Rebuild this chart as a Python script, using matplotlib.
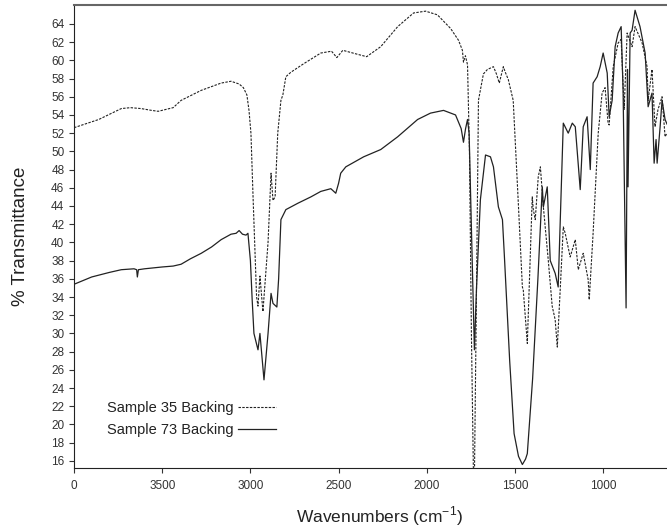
import matplotlib
matplotlib.use('Agg')
import matplotlib.pyplot as plt

plt.rcParams['font.family'] = ['Liberation Sans', 'DejaVu Sans']

# Sample 35 Backing (dashed)
wn_35 = [4000, 3860, 3732, 3680, 3620, 3560, 3523, 3438, 3393, 3279, 3166, 3110,
         3064, 3040, 3020, 3008, 2997, 2985, 2965, 2957, 2946, 2929, 2900, 2883,
         2872, 2860, 2845, 2827, 2816, 2799, 2770, 2700, 2601, 2540, 2510, 2476,
         2400, 2341, 2261, 2165, 2075, 2007, 1940, 1865, 1820, 1798, 1792, 1781,
         1769, 1758, 1747, 1735, 1730, 1718, 1707, 1679, 1656, 1622, 1605, 1589,
         1566, 1555, 1538, 1510, 1482, 1458, 1453, 1430, 1402, 1396, 1385, 1368,
         1356, 1339, 1311, 1289, 1272, 1260, 1243, 1226, 1215, 1187, 1158, 1141,
         1113, 1085, 1079, 1057, 1028, 1006, 989, 972, 966, 943, 915, 898, 881,
         864, 836, 819, 779, 751, 745, 723, 706, 689, 666, 649, 638]
t_35 = [52.6, 53.5, 54.7, 54.8, 54.7, 54.5, 54.4, 54.8, 55.6, 56.7, 57.5, 57.7,
        57.4, 57.0, 56.2, 54.5, 52.0, 45.0, 34.0, 33.0, 36.3, 32.4, 40.0, 47.6,
        44.6, 45.0, 52.0, 55.6, 56.2, 58.2, 58.7, 59.6, 60.8, 61.0, 60.3, 61.1,
        60.7, 60.4, 61.5, 63.7, 65.2, 65.4, 65.0, 63.5, 62.2, 61.1, 59.8, 60.5,
        59.5, 50.0, 30.0, 14.0, 14.0, 35.0, 55.6, 58.5, 59.0, 59.3, 58.5, 57.5,
        59.3, 58.7, 57.9, 55.6, 44.7, 35.1, 34.8, 28.9, 45.0, 43.6, 42.5, 47.2,
        48.3, 43.9, 38.0, 33.0, 31.5, 28.5, 35.0, 41.7, 41.0, 38.4, 40.3, 37.0,
        38.8, 35.9, 33.7, 41.0, 52.0, 56.4, 57.0, 53.1, 52.9, 59.3, 61.9, 62.3,
        54.6, 63.0, 61.5, 63.7, 61.9, 59.3, 55.6, 59.0, 52.7, 54.6, 56.0, 51.6, 52.0]

# Sample 73 Backing (solid)
wn_73 = [4000, 3900, 3800, 3732, 3660, 3645, 3641, 3635, 3600, 3500, 3438, 3393,
         3340, 3279, 3220, 3166, 3110, 3081, 3064, 3045, 3025, 3014, 3000, 2990,
         2980, 2957, 2946, 2923, 2900, 2883, 2872, 2850, 2840, 2827, 2799, 2731,
         2657, 2601, 2544, 2516, 2500, 2488, 2459, 2358, 2261, 2165, 2052, 1979,
         1905, 1837, 1805, 1792, 1780, 1769, 1760, 1745, 1730, 1718, 1696, 1667,
         1639, 1622, 1594, 1571, 1560, 1530, 1505, 1480, 1458, 1440, 1430, 1400,
         1370, 1345, 1339, 1317, 1300, 1272, 1255, 1226, 1198, 1175, 1158, 1130,
         1113, 1091, 1073, 1057, 1034, 1017, 1000, 977, 966, 949, 932, 915, 898,
         887, 870, 862, 859, 847, 836, 819, 791, 762, 745, 723, 711, 700, 694,
         677, 666, 649, 638]
t_73 = [35.4, 36.2, 36.7, 37.0, 37.1, 37.0, 36.2, 37.0, 37.1, 37.3, 37.4, 37.6,
        38.2, 38.8, 39.5, 40.3, 40.9, 41.0, 41.3, 40.9, 40.8, 41.0, 38.0, 33.7,
        30.0, 28.2, 30.0, 24.9, 30.0, 34.4, 33.3, 32.9, 36.0, 42.5, 43.6, 44.3,
        45.0, 45.6, 45.9, 45.4, 46.5, 47.6, 48.3, 49.4, 50.2, 51.6, 53.5, 54.2,
        54.5, 54.0, 52.5, 51.0, 52.5, 53.5, 52.0, 40.0, 28.2, 35.0, 44.7, 49.6,
        49.4, 48.3, 43.9, 42.5, 38.5, 27.0, 19.0, 16.5, 15.6, 16.2, 16.8, 25.0,
        36.0, 46.1, 43.9, 46.1, 38.0, 36.6, 35.1, 53.1, 52.0, 53.1, 52.7, 45.8,
        52.7, 53.8, 48.0, 57.5, 58.2, 59.3, 60.8, 58.6, 53.8, 55.6, 61.5, 63.0,
        63.7, 56.7, 32.8, 59.0, 46.1, 63.0, 63.3, 65.5, 63.7, 60.8, 54.9, 56.4,
        48.7, 51.3, 48.7, 52.7, 55.6, 53.5, 53.0]

x_ticks = [4000, 3500, 3000, 2500, 2000, 1500, 1000]
x_tick_labels = ['0', '3500', '3000', '2500', '2000', '1500', '1000']
y_ticks = list(range(16, 66, 2))

fig = plt.figure(figsize=(6.67, 5.32), dpi=100)
ax = fig.add_axes([0.111, 0.120, 0.889, 0.871])

ax.plot(wn_35, t_35, color='#222222', lw=0.8, ls=(0, (2.2, 1.2)),
        label='Sample 35 Backing')
ax.plot(wn_73, t_73, color='#222222', lw=0.9, label='Sample 73 Backing')

ax.set_xlim(4000, 638)
ax.set_ylim(15.2, 66.1)
ax.set_xticks(x_ticks)
ax.set_xticklabels(x_tick_labels)
ax.set_yticks(y_ticks)
ax.tick_params(axis='both', labelsize=8.5, length=3.5, width=0.8, colors='#333333')
ax.tick_params(axis='x', pad=5)

ax.spines['right'].set_visible(False)
ax.spines['top'].set_color('#666666')
ax.spines['top'].set_linewidth(1.5)
ax.spines['left'].set_color('#222222')
ax.spines['bottom'].set_color('#222222')

ax.set_xlabel('Wavenumbers (cm$^{\\mathregular{-1}}$)', fontsize=12.5, color='#222222')
ax.xaxis.set_label_coords(0.516, -0.078)
ax.set_ylabel('% Transmittance', fontsize=13.5, labelpad=16, color='#222222')

leg = ax.legend(loc='upper left', bbox_to_anchor=(0.055, 0.145), frameon=False,
                markerfirst=False, fontsize=10.5, handlelength=2.6,
                handletextpad=0.3, labelspacing=0.55, borderpad=0,
                borderaxespad=0)
for txt in leg.get_texts():
    txt.set_color('#222222')

fig.savefig('out.png', dpi=100)
